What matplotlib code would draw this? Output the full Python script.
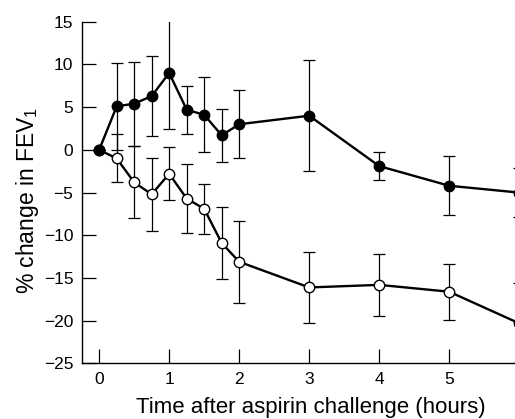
import numpy as np
import matplotlib
matplotlib.use('Agg')
import matplotlib.pyplot as plt

plt.rcParams['font.family'] = ['Liberation Sans', 'DejaVu Sans']
plt.rcParams['mathtext.fontset'] = 'custom'
plt.rcParams['mathtext.rm'] = 'Liberation Sans'

## DATA
hours = [0, 0.25, 0.5, 0.75, 1, 1.25, 1.5, 1.75, 2, 3, 4, 5, 6]

# filled circles
filled_mean = [0, 5.1, 5.4, 6.3, 9.0, 4.7, 4.1, 1.7, 3.0, 4.0, -1.9, -4.2, -5.0]
filled_err = [0, 5.1, 4.9, 4.7, 6.6, 2.8, 4.4, 3.1, 4.0, 6.5, 1.6, 3.45, 2.9]

# open circles
open_mean = [0, -1.0, -3.8, -5.2, -2.8, -5.7, -6.9, -10.9, -13.1, -16.1, -15.8, -16.6, -20.3]
open_err = [0, 2.8, 4.2, 4.3, 3.1, 4.0, 2.9, 4.2, 4.8, 4.2, 3.6, 3.3, 4.7]

x_ticks = [0, 1, 2, 3, 4, 5]
y_ticks = [-25, -20, -15, -10, -5, 0, 5, 10, 15]


## PLOT
fig = plt.figure(figsize=(5.15, 4.19), dpi=100)
ax = fig.add_axes([0.1586, 0.1325, 0.8414, 0.8157])

ax.errorbar(hours, open_mean, yerr=open_err, fmt='none', ecolor='black',
            elinewidth=0.9, capsize=4.5, capthick=0.9, zorder=2)
ax.errorbar(hours, filled_mean, yerr=filled_err, fmt='none', ecolor='black',
            elinewidth=0.9, capsize=4.5, capthick=0.9, zorder=2)

ax.plot(hours, open_mean, color='black', lw=1.7, marker='o', markersize=7.5,
        markerfacecolor='white', markeredgecolor='black', markeredgewidth=1.0,
        zorder=3)
ax.plot(hours, filled_mean, color='black', lw=1.7, marker='o', markersize=7.5,
        markerfacecolor='black', markeredgecolor='black', zorder=4)

ax.set_xlim(-0.25, 5.94)
ax.set_ylim(-25, 15)
ax.set_xticks(x_ticks)
ax.set_yticks(y_ticks)
ax.set_yticklabels([str(v).replace('-', '\u2212') for v in y_ticks])

ax.spines['top'].set_visible(False)
ax.spines['right'].set_visible(False)
ax.spines['left'].set_linewidth(1.0)
ax.spines['bottom'].set_linewidth(1.0)

ax.tick_params(axis='both', direction='in', length=10, width=0.9, labelsize=12.5)
ax.tick_params(axis='x', pad=6)
ax.tick_params(axis='y', pad=6)

ax.set_xlabel('Time after aspirin challenge (hours)', fontsize=16)
ax.set_ylabel('% change in FEV$_1$', fontsize=16.5)
# original figure was cropped on the right, so labels sit off-centre
ax.xaxis.set_label_coords(0.528, -0.098)
ax.yaxis.set_label_coords(-0.094, 0.478)

fig.savefig('out.png', dpi=100)
